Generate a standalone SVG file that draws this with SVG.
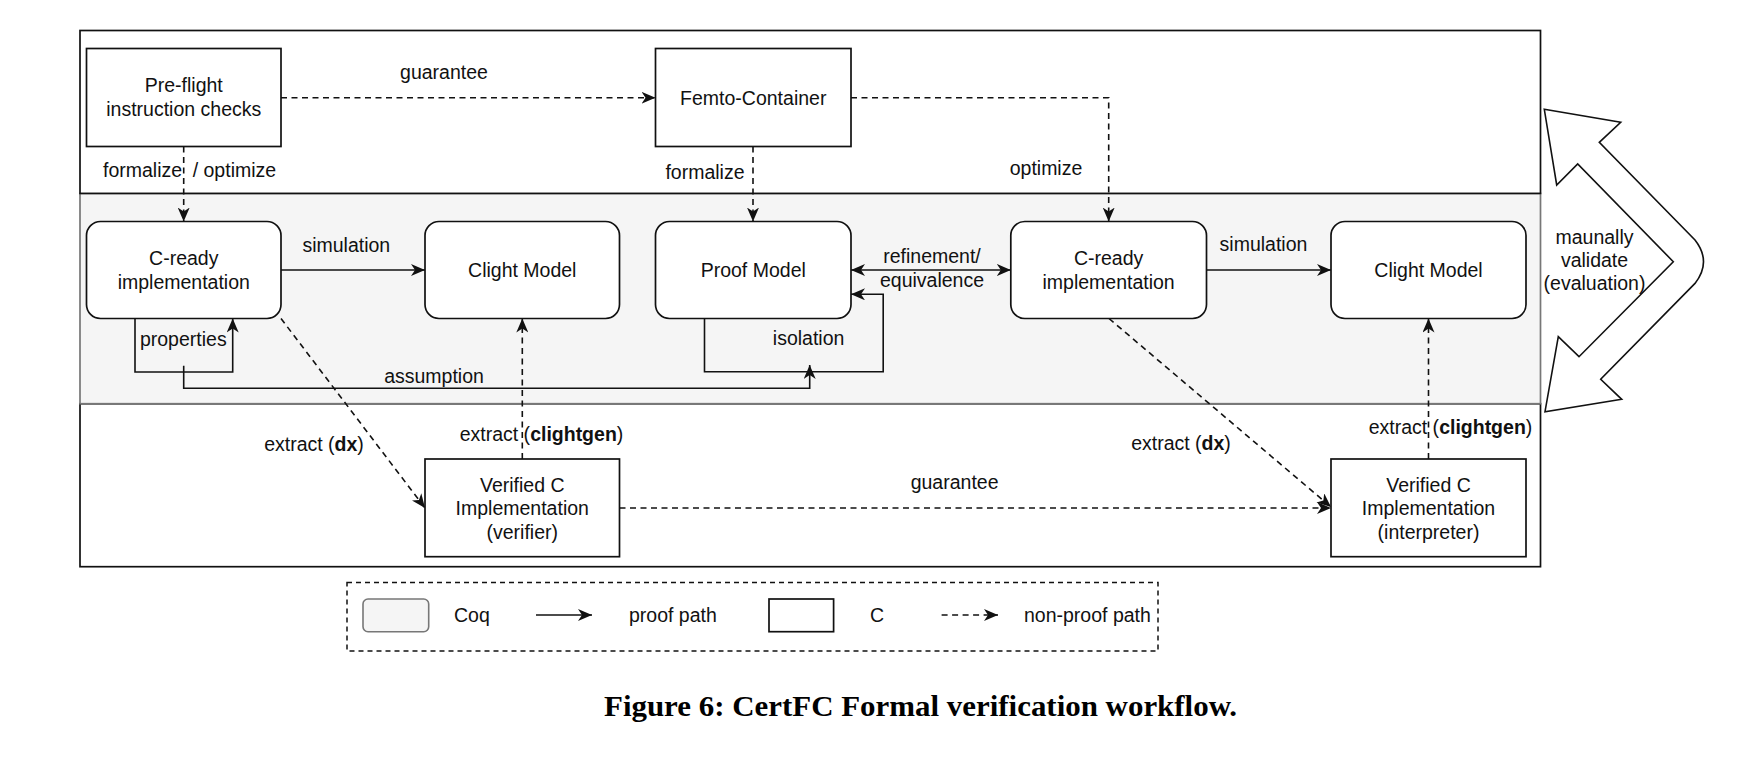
<svg xmlns="http://www.w3.org/2000/svg" width="1763" height="772" viewBox="0 0 1763 772">
<style>
text{font-family:"Liberation Sans",Arial,sans-serif;font-size:19.5px;fill:#111;}
.c{text-anchor:middle;}
.box{fill:#fff;stroke:#111;stroke-width:1.7;}
.ln{fill:none;stroke:#111;stroke-width:1.6;}
.dash{stroke-dasharray:6 4.5;}
.cap{font-family:"Liberation Serif","Times New Roman",serif;font-weight:bold;font-size:28.5px;fill:#000;}
</style>
<defs>
<marker id="ah" viewBox="0 0 14 12" markerWidth="14" markerHeight="12" refX="14" refY="6" orient="auto-start-reverse" markerUnits="userSpaceOnUse">
<path d="M0,0 L14,6 L0,12 L4,6 z" fill="#111"/>
</marker>
</defs>
<rect width="1763" height="772" fill="#fff"/>
<g id="lanes">
<rect x="80" y="403.7" width="1460.5" height="163" fill="#fff" stroke="#111" stroke-width="1.7"/>
<rect x="80" y="193.4" width="1460.5" height="210.3" fill="#f5f5f5" stroke="#777" stroke-width="1.7"/>
<rect x="80" y="30.5" width="1460.5" height="162.9" fill="#fff" stroke="#111" stroke-width="1.7"/>
</g>
<g id="connectors">
<path class="ln dash" d="M281,97.8 H655.5" marker-end="url(#ah)"/>
<path class="ln dash" d="M851,97.8 H1108.7 V221.5" marker-end="url(#ah)"/>
<path class="ln dash" d="M183.7,146.5 V221.5" marker-end="url(#ah)"/>
<path class="ln dash" d="M753,146.5 V221.5" marker-end="url(#ah)"/>
<path class="ln" d="M281,270 H425" marker-end="url(#ah)"/>
<path class="ln" d="M1206.5,270 H1331" marker-end="url(#ah)"/>
<path class="ln" d="M851,270 H1010.8" marker-start="url(#ah)" marker-end="url(#ah)"/>
<path class="ln" d="M135,318.5 V372 H232.7 V318.5" marker-end="url(#ah)"/>
<path class="ln" d="M183.7,365.7 V388.3 H809.7 V365" marker-end="url(#ah)"/>
<path class="ln" d="M704.5,318.5 V371.7 H883.2 V294.3 H851" marker-end="url(#ah)"/>
<path class="ln dash" d="M281,318.5 L425,508" marker-end="url(#ah)"/>
<path class="ln dash" d="M522.3,459 V318.5" marker-end="url(#ah)"/>
<path class="ln dash" d="M619.5,508 H1331" marker-end="url(#ah)"/>
<path class="ln dash" d="M1109,318.5 L1331,507" marker-end="url(#ah)"/>
<path class="ln dash" d="M1428.5,459 V318.5" marker-end="url(#ah)"/>
</g>
<g id="edge-labels">
<text class="c" x="444" y="79">guarantee</text>
<text x="103" y="177">formalize</text>
<text x="192.7" y="177">/ optimize</text>
<text class="c" x="705" y="179">formalize</text>
<text class="c" x="1046" y="175">optimize</text>
<text class="c" x="346.3" y="251.5">simulation</text>
<text class="c" x="1263.5" y="250.5">simulation</text>
<text class="c" x="932" y="263">refinement/</text>
<text class="c" x="932" y="286.5">equivalence</text>
<text class="c" x="183.3" y="346">properties</text>
<text class="c" x="434" y="382.5">assumption</text>
<text class="c" x="808.6" y="345">isolation</text>
<text class="c" x="314" y="450.5">extract (<tspan font-weight="bold">dx</tspan>)</text>
<text class="c" x="541.5" y="440.5">extract (<tspan font-weight="bold">clightgen</tspan>)</text>
<text class="c" x="954.6" y="489">guarantee</text>
<text class="c" x="1181" y="450">extract (<tspan font-weight="bold">dx</tspan>)</text>
<text class="c" x="1450.5" y="434">extract (<tspan font-weight="bold">clightgen</tspan>)</text>
</g>
<g id="preflight">
<rect class="box" x="86.5" y="48.5" width="194.5" height="98"/>
<text class="c" x="183.75" y="92">Pre-flight</text>
<text class="c" x="183.75" y="115.5">instruction checks</text>
</g>
<g id="femto">
<rect class="box" x="655.5" y="48.5" width="195.5" height="98"/>
<text class="c" x="753.25" y="104.5">Femto-Container</text>
</g>
<g id="cready1">
<rect class="box" x="86.5" y="221.5" width="194.5" height="97" rx="14"/>
<text class="c" x="183.75" y="265">C-ready</text>
<text class="c" x="183.75" y="288.5">implementation</text>
</g>
<g id="clight1">
<rect class="box" x="425" y="221.5" width="194.5" height="97" rx="14"/>
<text class="c" x="522.25" y="276.5">Clight Model</text>
</g>
<g id="proof">
<rect class="box" x="655.5" y="221.5" width="195.5" height="97" rx="14"/>
<text class="c" x="753.25" y="276.5">Proof Model</text>
</g>
<g id="cready2">
<rect class="box" x="1010.8" y="221.5" width="195.7" height="97" rx="14"/>
<text class="c" x="1108.6" y="265">C-ready</text>
<text class="c" x="1108.6" y="288.5">implementation</text>
</g>
<g id="clight2">
<rect class="box" x="1331" y="221.5" width="195" height="97" rx="14"/>
<text class="c" x="1428.5" y="276.5">Clight Model</text>
</g>
<g id="verifier">
<rect class="box" x="425" y="459" width="194.5" height="97.7"/>
<text class="c" x="522.25" y="491.5">Verified C</text>
<text class="c" x="522.25" y="515">Implementation</text>
<text class="c" x="522.25" y="538.5">(verifier)</text>
</g>
<g id="interpreter">
<rect class="box" x="1331" y="459" width="195" height="97.7"/>
<text class="c" x="1428.5" y="491.5">Verified C</text>
<text class="c" x="1428.5" y="515">Implementation</text>
<text class="c" x="1428.5" y="538.5">(interpreter)</text>
</g>
<g id="validate">
<path d="M1544.3,109.3 L1620.7,122.3 L1599.3,142.3 L1695,240 Q1712,261.7 1695,283.4 L1600.7,379.3 L1621.7,399.3 L1545,411.7 L1558.3,336.7 L1579,356.7 L1673.3,261.7 L1577.7,164 L1556.7,185 Z" fill="#fff" stroke="#111" stroke-width="1.6" stroke-linejoin="miter"/>
<text class="c" x="1594.5" y="243.5">maunally</text>
<text class="c" x="1594.5" y="266.5">validate</text>
<text class="c" x="1594.5" y="290">(evaluation)</text>
</g>
<g id="legend">
<rect x="347" y="582.5" width="811" height="68.5" fill="none" stroke="#111" stroke-width="1.5" stroke-dasharray="5 4"/>
<rect x="363" y="599" width="65.7" height="32.7" rx="5" fill="#f5f5f5" stroke="#777" stroke-width="1.6"/>
<text x="454" y="622">Coq</text>
<path class="ln" d="M536,615 H592" marker-end="url(#ah)"/>
<text x="629" y="622">proof path</text>
<rect x="769" y="599" width="64.6" height="32.7" fill="#fff" stroke="#111" stroke-width="1.7"/>
<text x="870" y="622">C</text>
<path class="ln dash" d="M941.6,615 H998" marker-end="url(#ah)" stroke-dasharray="4 3.5"/>
<text x="1024" y="622">non-proof path</text>
</g>
<text class="cap" x="604" y="716" textLength="633" lengthAdjust="spacingAndGlyphs">Figure 6: CertFC Formal verification workflow.</text>
</svg>
